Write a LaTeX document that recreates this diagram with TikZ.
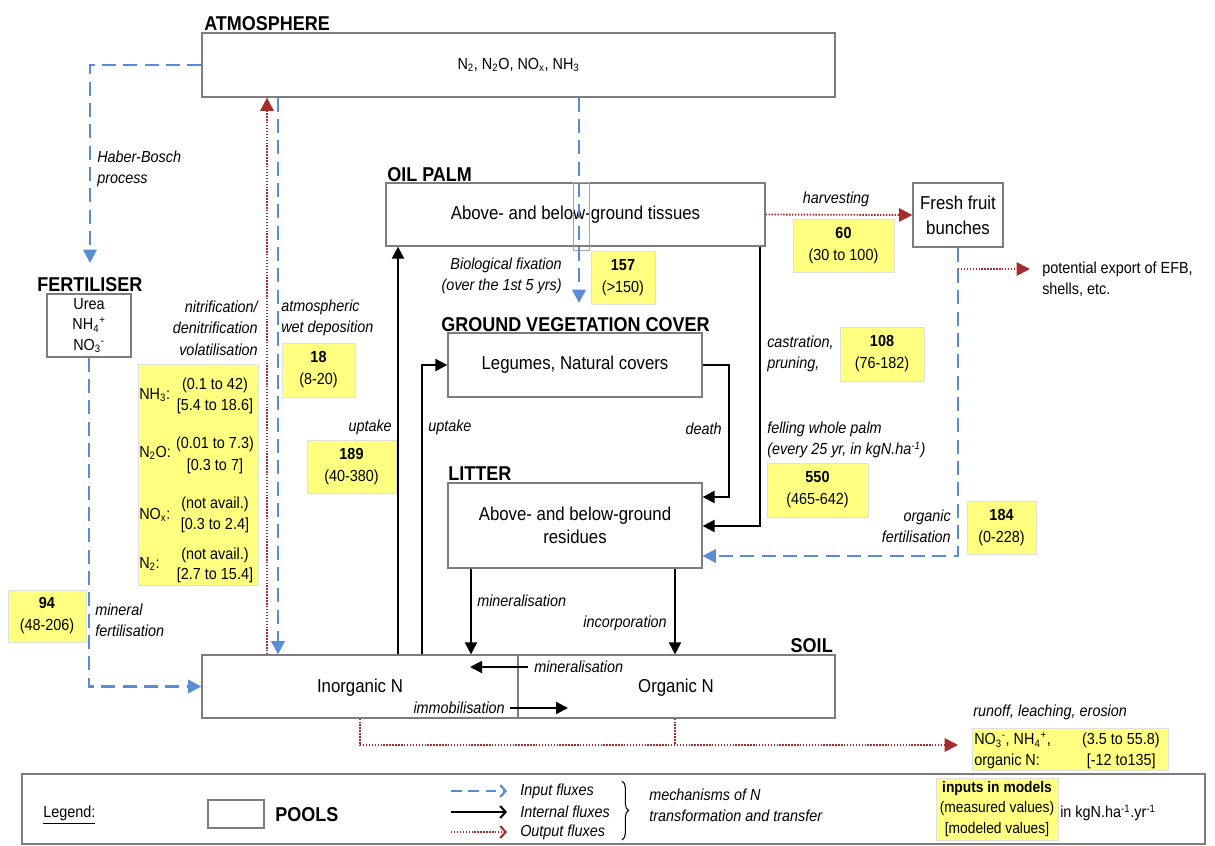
\documentclass[tikz,border=0pt]{standalone}
\usepackage{fontspec}
\setmainfont{Liberation Sans}[FakeStretch=0.9]
\usetikzlibrary{arrows.meta,fit,decorations.pathreplacing}
\definecolor{inblue}{RGB}{88,140,212}
\definecolor{outred}{RGB}{165,45,45}
\definecolor{valyellow}{RGB}{255,255,128}
\definecolor{poolgray}{RGB}{125,125,125}
\newcommand\sbs[1]{\textsubscript{#1}}
\newcommand\sps[1]{\textsuperscript{#1}}
\tikzset{
 pool/.style={draw=poolgray, line width=0.9pt, fill=white, inner sep=0pt},
 pooltxt/.style={inner sep=0pt, align=center, font=\fontsize{14}{17.5}\selectfont},
 head/.style={inner sep=0pt, font=\fontsize{15}{18}\selectfont\bfseries},
 val/.style={fill=valyellow, draw=black!12, line width=0.6pt, inner sep=0pt},
 valtxt/.style={inner sep=0pt, align=center, font=\fontsize{12}{16.5}\selectfont},
 lab/.style={inner sep=0pt, font=\fontsize{12}{16}\selectfont\itshape},
 txt/.style={inner sep=0pt, font=\fontsize{12}{16}\selectfont},
 influx/.style={draw=inblue, line width=2pt, dash pattern=on 10.5pt off 5.5pt, -{Triangle[length=10pt,width=10pt]}},
 intern/.style={draw=black, line width=1.5pt, -{Triangle[length=9pt,width=9pt]}},
 outline/.style={draw=outred, line width=1.4pt, dash pattern=on 1.1pt off 1.1pt},
 outflux/.style={outline, -{Triangle[length=10pt,width=10pt]}},
 legtip/.style={-{Straight Barb[length=4pt,width=9pt,line width=1.6pt]}},
}
\begin{document}
\begin{tikzpicture}[x=0.75pt,y=-0.75pt]
\useasboundingbox (0,0) rectangle (1215,846);

% ---------- pools ----------
\node[pool, fit={(202,33)(835,97)}, label={[pooltxt, font=\fontsize{12}{16}\selectfont]center:{N\sbs{2}, N\sbs{2}O, NO\sbs{x}, NH\sbs{3}}}] (atm) {};
\node[head, anchor=base west] (atmh) at (204,31) {ATMOSPHERE};

\node[pool, fit={(386,183)(765,246)}, label={[pooltxt]center:{Above- and below-ground tissues}}] (palm) {};
\node[head, anchor=base west] (palmh) at (387,181) {OIL PALM};
\draw[draw=poolgray!70, line width=0.7pt] (573,182) rectangle (589,250);

\node[pool, fit={(913,183)(1003,247)}, label={[pooltxt, font=\fontsize{14}{18.75}\selectfont]center:{Fresh fruit\\bunches}}] (ffb) {};

\node[pool, fit={(47,294)(131,357)}, label={[pooltxt, font=\fontsize{12}{15.5}\selectfont]center:{Urea\\NH\sbs{4}\sps{+}\\NO\sbs{3}\sps{-}}}] (fert) {};
\node[head, anchor=base west] (ferth) at (37,291) {FERTILISER};

\node[pool, fit={(448,333)(702,397)}, label={[pooltxt]center:{Legumes, Natural covers}}] (veg) {};
\node[head, anchor=base west] (vegh) at (441,331) {GROUND VEGETATION COVER};

\node[pool, fit={(448,483)(702,568)}, label={[pooltxt, font=\fontsize{14}{17.25}\selectfont]center:{Above- and below-ground\\residues}}] (litter) {};
\node[head, anchor=base west] (litterh) at (448,480) {LITTER};

\node[pool, fit={(202,655)(835,718)}] (soil) {};
\node[head, anchor=base east] (soilh) at (833,652) {SOIL};
\coordinate (divx) at (518,0);
\draw[draw=poolgray, line width=0.9pt] (divx |- soil.north) -- (divx |- soil.south);
\node[pooltxt] (inorg) at (360,688) {Inorganic N};
\node[pooltxt] (org) at (676,688) {Organic N};

% ---------- helper coordinates ----------
\coordinate (hb) at (90,263);
\coordinate (x267) at (267,0);
\coordinate (x278) at (278,0);
\coordinate (x398) at (398,0);
\coordinate (x422) at (422,0);
\coordinate (fix) at (579,303);
\coordinate (exp) at (1030,269);
\coordinate (y556) at (0,556);
\coordinate (fell) at (760,526);
\coordinate (death) at (729,497);
\coordinate (x471) at (471,0);
\coordinate (x675) at (675,0);
\coordinate (minA) at (528,667);
\coordinate (minB) at (470,667);
\coordinate (immA) at (510,708);
\coordinate (immB) at (568,708);
\coordinate (x360) at (360,0);
\coordinate (run) at (958,745);

% ---------- input fluxes ----------
\draw[influx] (atm.west) -| (hb);
\draw[influx] (fert.south) |- (soil.west);
\draw[influx] (x278 |- atm.south) -- (x278 |- soil.north);
\draw[influx] (fix |- atm.south) -- (fix);
\draw[influx] (ffb.south) |- (litter.east |- y556);

% ---------- internal fluxes ----------
\draw[intern] (x398 |- soil.north) -- (x398 |- palm.south);
\draw[intern] (x422 |- soil.north) |- (veg.west);
\draw[intern] (veg.east) -| (death) -- (litter.east |- death);
\draw[intern] (fell |- palm.south) |- (litter.east |- fell);
\draw[intern] (x471 |- litter.south) -- (x471 |- soil.north);
\draw[intern] (x675 |- litter.south) -- (x675 |- soil.north);
\draw[intern] (minA) -- (minB);
\draw[intern] (immA) -- (immB);

% ---------- output fluxes ----------
\draw[outflux] (x267 |- soil.north) -- (x267 |- atm.south);
\draw[outflux] (palm.east) -- (ffb.west);
\draw[outflux] (ffb.south |- exp) -- (exp);
\draw[outflux] (x360 |- soil.south) |- (run);
\draw[outline] (x675 |- soil.south) -- (x675 |- run);

% ---------- labels ----------
\node[lab, anchor=west, align=left] (lhb) at (97,169) {Haber-Bosch\\process};
\node[lab, anchor=east, align=right] (lnit) at (258,328) {nitrification/\\denitrification\\volatilisation};
\node[lab, anchor=west, align=left] (lwet) at (281,318) {atmospheric\\wet deposition};
\node[lab, anchor=east] (lup1) at (392,427) {uptake};
\node[lab, anchor=west] (lup2) at (428,427) {uptake};
\node[lab, anchor=east, align=right] (lfix) at (562,276) {Biological fixation\\(over the 1st 5 yrs)};
\node[lab] (lharv) at (836,199) {harvesting};
\node[lab, anchor=west, align=left] (lcast) at (767,354) {castration,\\pruning,};
\node[lab, anchor=west, align=left] (lfell) at (767,440) {felling whole palm\\(every 25 yr, in kgN.ha\sps{-1})};
\node[lab, anchor=east] (ldeath) at (722,429) {death};
\node[lab, anchor=east, align=right] (lorgf) at (951,526) {organic\\fertilisation};
\node[lab, anchor=west] (lmin1) at (477,601) {mineralisation};
\node[lab, anchor=east] (linc) at (667,623) {incorporation};
\node[lab, anchor=west] (lmin2) at (534,667) {mineralisation};
\node[lab, anchor=east] (limm) at (505,708) {immobilisation};
\node[lab, anchor=west, align=left] (lminf) at (95,620) {mineral\\fertilisation};
\node[lab, anchor=west] (lrun) at (973,712) {runoff, leaching, erosion};
\node[txt, anchor=west, align=left] (lexp) at (1042,279) {potential export of EFB,\\shells, etc.};

% ---------- values ----------
\node[val, fit={(591,251)(655,304)}, label={[valtxt]center:{\textbf{157}\\(>150)}}] (v157) {};
\node[val, fit={(793,219)(894,272)}, label={[valtxt]center:{\textbf{60}\\(30 to 100)}}] (v60) {};
\node[val, fit={(840,327)(924,381)}, label={[valtxt]center:{\textbf{108}\\(76-182)}}] (v108) {};
\node[val, fit={(282,343)(355,397)}, label={[valtxt]center:{\textbf{18}\\(8-20)}}] (v18) {};
\node[val, fit={(307,440)(396,493)}, label={[valtxt]center:{\textbf{189}\\(40-380)}}] (v189) {};
\node[val, fit={(767,463)(868,517)}, label={[valtxt]center:{\textbf{550}\\(465-642)}}] (v550) {};
\node[val, fit={(967,501)(1036,554)}, label={[valtxt]center:{\textbf{184}\\(0-228)}}] (v184) {};
\node[val, fit={(8,590)(86,642)}, label={[valtxt]center:{\textbf{94}\\(48-206)}}] (v94) {};

\node[val, fit={(138,364)(258,585)}] (vgas) {};
\node[txt, anchor=west] (g1) at (139,395) {NH\sbs{3}:};
\node[txt] (g1a) at (215,385) {(0.1 to 42)};
\node[txt] (g1b) at (215,406) {[5.4 to 18.6]};
\node[txt, anchor=west] (g2) at (139,453) {N\sbs{2}O:};
\node[txt] (g2a) at (215,444) {(0.01 to 7.3)};
\node[txt] (g2b) at (215,466) {[0.3 to 7]};
\node[txt, anchor=west] (g3) at (139,515) {NO\sbs{x}:};
\node[txt] (g3a) at (215,504) {(not avail.)};
\node[txt] (g3b) at (215,525) {[0.3 to 2.4]};
\node[txt, anchor=west] (g4) at (139,564) {N\sbs{2}:};
\node[txt] (g4a) at (215,555) {(not avail.)};
\node[txt] (g4b) at (215,575) {[2.7 to 15.4]};

\node[val, fit={(972,728)(1168,770)}] (vrun) {};
\node[txt, anchor=west] (r1) at (974,740) {NO\sbs{3}\sps{-}, NH\sbs{4}\sps{+},};
\node[txt, anchor=east] (r1b) at (1160,740) {(3.5 to 55.8)};
\node[txt, anchor=west] (r2) at (974,761) {organic N:};
\node[txt, anchor=east] (r2b) at (1156,761) {[-12 to135]};

% ---------- legend ----------
\node[draw=poolgray, line width=0.9pt, inner sep=0pt, fit={(22,774)(1205,844)}] (legend) {};
\node[txt, anchor=west] (leg) at (43,815) {\underline{Legend:}};
\node[pool, fit={(208,800)(264,828)}] (legpool) {};
\node[head, anchor=west] (legpoolt) at (275,815) {POOLS};
\coordinate (la1) at (451,791); \coordinate (lb1) at (507,791);
\coordinate (la2) at (451,812); \coordinate (lb2) at (507,812);
\coordinate (la3) at (451,832); \coordinate (lb3) at (507,832);
\draw[draw=inblue, line width=2pt, dash pattern=on 8pt off 5pt, legtip] (la1) -- (lb1);
\draw[draw=black, line width=1.4pt, legtip] (la2) -- (lb2);
\draw[outline, line width=1.2pt, legtip] (la3) -- (lb3);
\node[lab, anchor=west] (lin) at (520,791) {Input fluxes};
\node[lab, anchor=west] (lint) at (520,812) {Internal fluxes};
\node[lab, anchor=west] (lout) at (520,832) {Output fluxes};
\coordinate (brA) at (622,781); \coordinate (brB) at (622,840);
\draw[line width=0.8pt, decorate, decoration={brace, amplitude=5pt}] (brA) -- (brB);
\node[lab, anchor=west, align=left] (lmech) at (649,805) {mechanisms of N\\transformation and transfer};
\node[val, fit={(936,778)(1058,840)}, label={[valtxt, font=\fontsize{11.5}{15.5}\selectfont]center:{\textbf{inputs in models}\\(measured values)\\{}[modeled values]}}] (vleg) {};
\node[txt, anchor=west] (lunit) at (1060,813) {in kgN.ha\sps{-1}.yr\sps{-1}};
\end{tikzpicture}
\end{document}
